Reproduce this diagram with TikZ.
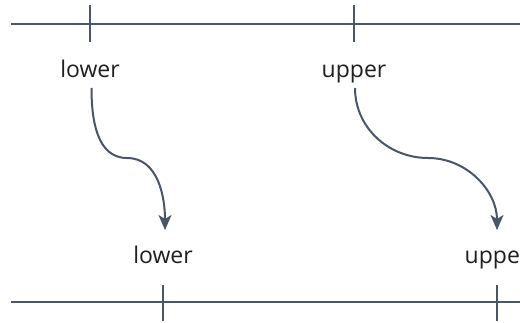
\documentclass[tikz,border=0pt]{standalone}
\usepackage{fontspec}
\setmainfont{Open Sans}
\usetikzlibrary{arrows.meta}
\definecolor{axis}{HTML}{4A5565}
\definecolor{txt}{HTML}{1F1F1F}
\tikzset{
  axisline/.style={draw=axis, line width=1.6pt},
  tickline/.style={draw=axis, line width=1.4pt},
  lbl/.style={text=txt, font=\fontsize{23}{27}\selectfont, inner sep=0pt, anchor=base},
  flow/.style={draw=axis, line width=2pt, -{Stealth[length=15pt,width=13pt,inset=4pt]}}
}
\begin{document}
\begin{tikzpicture}[x=1pt,y=-1pt]
\clip (0,0) rectangle (520,323);
\fill[white] (0,0) rectangle (520,323);
% top axis
\coordinate (tl) at (11,24);
\coordinate (tr) at (530,24);
\draw[axisline] (tl) -- (tr);
\coordinate (t1a) at (90,5); \coordinate (t1b) at (90,42);
\coordinate (t2a) at (354,5); \coordinate (t2b) at (354,42);
\draw[tickline] (t1a) -- (t1b);
\draw[tickline] (t2a) -- (t2b);
% bottom axis
\coordinate (bl) at (11,302);
\coordinate (br) at (530,302);
\draw[axisline] (bl) -- (br);
\coordinate (b1a) at (163,285); \coordinate (b1b) at (163,321);
\coordinate (b2a) at (497,285); \coordinate (b2b) at (497,321);
\draw[tickline] (b1a) -- (b1b);
\draw[tickline] (b2a) -- (b2b);
% labels
\node[lbl] (lowT) at (90,78) {lower};
\node[lbl] (upT) at (354,78) {upper};
\node[lbl] (lowB) at (163,264) {lower};
\node[lbl] (upB) at (497,264) {upper};
% arrows
\coordinate (s1) at (91.5,88);
\coordinate (m1) at (127,158);
\coordinate (e1) at (165,230);
\coordinate (s2) at (355,88);
\coordinate (m2) at (428,158);
\coordinate (e2) at (497,230);
\draw[flow] (s1) to[out=-90,in=180,looseness=1] (m1) to[out=0,in=90,looseness=1] (e1);
\draw[flow] (s2) to[out=-90,in=180,looseness=1] (m2) to[out=0,in=90,looseness=1] (e2);
\end{tikzpicture}
\end{document}
